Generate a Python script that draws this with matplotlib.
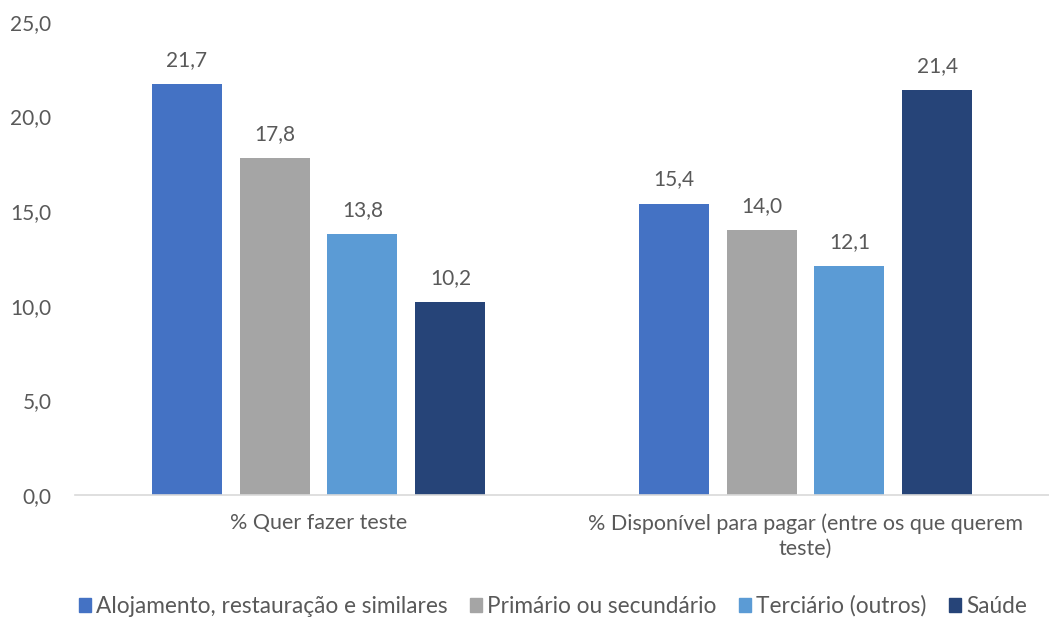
import numpy as np
import matplotlib
matplotlib.use("Agg")
import matplotlib.pyplot as plt
import matplotlib.patches as mpatches

categories = ["% Quer fazer teste",
              "% Disponível para pagar (entre os que querem\nteste)"]
series = ["Alojamento, restauração e similares", "Primário ou secundário",
          "Terciário (outros)", "Saúde"]
alojamento = [21.7, 15.4]
primario = [17.8, 14.0]
terciario = [13.8, 12.1]
saude = [10.2, 21.4]
yticks = [0, 5, 10, 15, 20, 25]

colors = ["#4472C4", "#A5A5A5", "#5B9BD5", "#264478"]
text_c = "#595959"
plt.rcParams["font.family"] = ["Lato", "DejaVu Sans"]

fig = plt.figure(figsize=(10.49, 6.21), dpi=100)
ax = fig.add_axes([75 / 1049, 0.2029, 1 - 75 / 1049, 0.7617])

x = np.arange(len(categories))
width, pitch = 0.1436, 0.1805
values = [alojamento, primario, terciario, saude]
for i, (vals, col) in enumerate(zip(values, colors)):
    pos = x + (i - 1.5) * pitch
    bars = ax.bar(pos, vals, width, color=col)
    for b, v in zip(bars, vals):
        ax.text(b.get_x() + b.get_width() / 2, v + 0.75, f"{v:.1f}".replace(".", ","),
                ha="center", va="bottom", fontsize=15, color=text_c)

ax.set_xlim(-0.5, 1.5)
ax.set_ylim(0, 25)
ax.set_yticks(yticks)
ax.set_yticklabels([f"{t:.1f}".replace(".", ",") for t in yticks], fontsize=15, color=text_c)
ax.set_xticks(x)
ax.set_xticklabels(categories, fontsize=15.5, color=text_c, linespacing=1.3)
ax.tick_params(axis="both", length=0)
ax.tick_params(axis="y", pad=17)
ax.tick_params(axis="x", pad=13)
for s in ["top", "right", "left"]:
    ax.spines[s].set_visible(False)
ax.spines["bottom"].set_color("#D9D9D9")
ax.spines["bottom"].set_linewidth(1.2)

handles = [mpatches.Patch(color=c, label=s) for c, s in zip(colors, series)]
fig.legend(handles=handles, loc="center", bbox_to_anchor=(0.527, 0.024), ncol=4,
           frameon=False, fontsize=16.3, labelcolor=text_c, handlelength=0.55,
           handleheight=0.55, handletextpad=0.2, columnspacing=1.0)

fig.savefig("out.png", dpi=100, facecolor="white")
